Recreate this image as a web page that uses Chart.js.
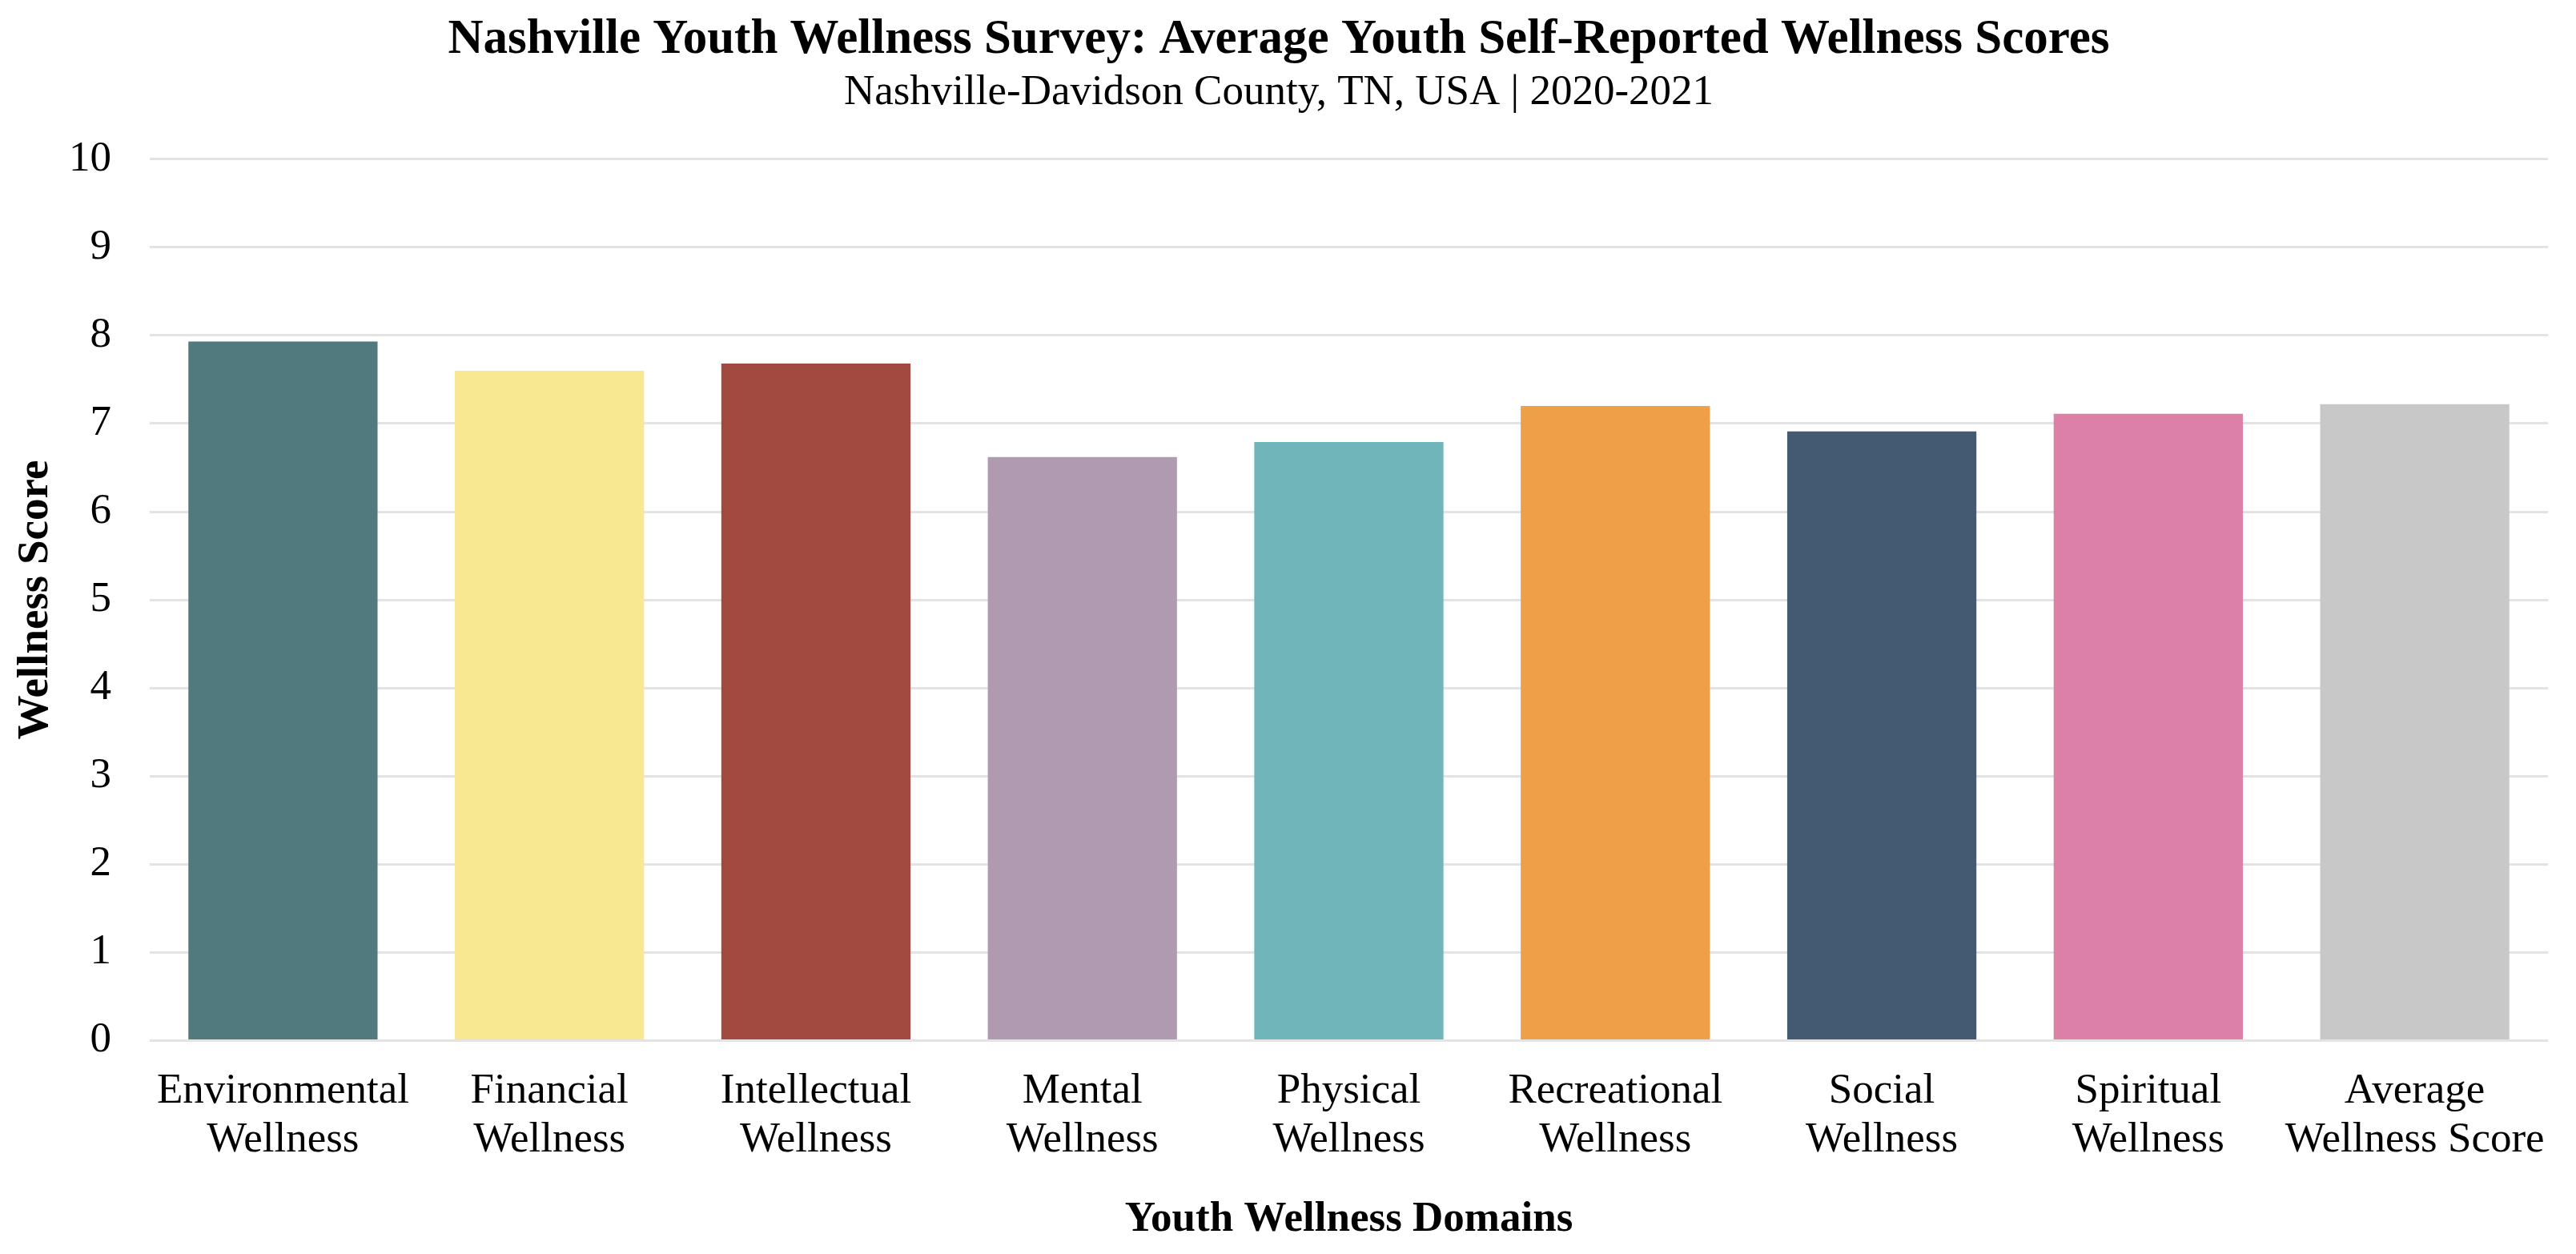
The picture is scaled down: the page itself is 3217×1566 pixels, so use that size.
<!DOCTYPE html>
<html>
<head>
<meta charset="utf-8">
<script src="https://cdn.jsdelivr.net/npm/chart.js@4/dist/chart.umd.min.js"></script>
<style>
  html, body { margin: 0; padding: 0; background: #ffffff; }
  #wrap { width: 3217px; height: 1566px; position: relative; }
</style>
</head>
<body>
<div id="wrap"><canvas id="c"></canvas></div>
<script>
const categories = [
  ["Environmental", "Wellness"],
  ["Financial", "Wellness"],
  ["Intellectual", "Wellness"],
  ["Mental", "Wellness"],
  ["Physical", "Wellness"],
  ["Recreational", "Wellness"],
  ["Social", "Wellness"],
  ["Spiritual", "Wellness"],
  ["Average", "Wellness Score"]
];
const scores = [7.93, 7.60, 7.68, 6.62, 6.79, 7.20, 6.91, 7.11, 7.22];
const barColors = ["#517A7E", "#F8E891", "#A24A40", "#B09AB2", "#6FB5B9", "#EE9F47", "#435A72", "#DD80A8", "#C8C8C8"];
const yTicks = [0, 1, 2, 3, 4, 5, 6, 7, 8, 9, 10];
const titleText = "Nashville Youth Wellness Survey: Average Youth Self-Reported Wellness Scores";
const subtitleText = "Nashville-Davidson County, TN, USA | 2020-2021";
const xTitle = "Youth Wellness Domains";
const yTitle = "Wellness Score";

const SERIF = "'Liberation Serif', 'Times New Roman', serif";
const Y_TICK_PAD = 48;

new Chart(document.getElementById('c'), {
  type: 'bar',
  data: {
    labels: categories,
    datasets: [{
      data: scores,
      backgroundColor: barColors,
      borderWidth: 0,
      categoryPercentage: 1.0,
      barPercentage: 0.71
    }]
  },
  options: {
    responsive: true,
    maintainAspectRatio: false,
    devicePixelRatio: 1,
    animation: false,
    layout: { padding: { left: 12, right: 35, top: 0, bottom: 11 } },
    plugins: {
      legend: { display: false },
      tooltip: { enabled: false },
      title: {
        display: true,
        text: titleText,
        color: '#000',
        font: { family: SERIF, size: 61, weight: 'bold', lineHeight: 1.1 },
        padding: { top: 17, bottom: 0 }
      },
      subtitle: {
        display: true,
        text: subtitleText,
        color: '#000',
        font: { family: SERIF, size: 53, lineHeight: 1.2 },
        padding: { top: 0, bottom: 51 }
      }
    },
    scales: {
      x: {
        grid: { display: false },
        border: { display: false },
        ticks: {
          color: '#000',
          font: { family: SERIF, size: 53, lineHeight: 1.15 },
          padding: 25,
          maxRotation: 0,
          autoSkip: false
        },
        title: {
          display: true,
          text: xTitle,
          color: '#000',
          font: { family: SERIF, size: 53, weight: 'bold', lineHeight: 1.2 },
          padding: { top: 12, bottom: 0 }
        }
      },
      y: {
        min: 0,
        max: 10,
        afterBuildTicks: (axis) => { axis.ticks = yTicks.map(v => ({ value: v })); },
        afterFit: (axis) => { axis.width = axis.width - Y_TICK_PAD; },
        grid: { color: '#E3E3E3', lineWidth: 3, drawTicks: false },
        border: { display: false },
        ticks: {
          color: '#000',
          font: { family: SERIF, size: 53 },
          padding: Y_TICK_PAD
        },
        title: {
          display: true,
          text: yTitle,
          color: '#000',
          font: { family: SERIF, size: 55, weight: 'bold', lineHeight: 1.2 },
          padding: { top: 0, bottom: 8 }
        }
      }
    }
  }
});
</script>
</body>
</html>
